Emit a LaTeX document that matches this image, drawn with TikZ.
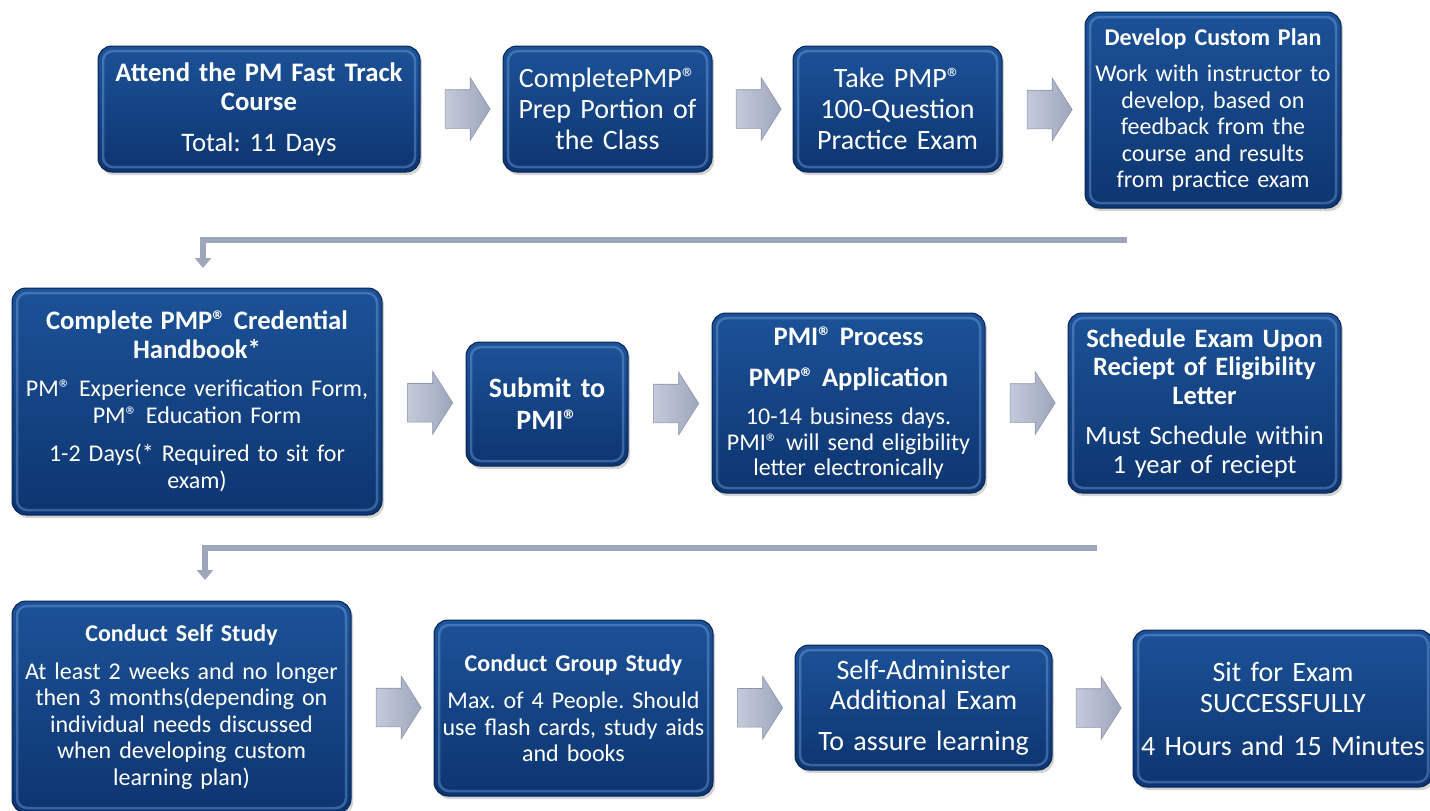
\documentclass[tikz,border=0pt]{standalone}
\usepackage{fontspec}
\setmainfont{Carlito}
\usetikzlibrary{positioning,calc,shapes.arrows,shadows,arrows.meta}

\definecolor{boxtop}{RGB}{28,82,152}
\definecolor{boxbot}{RGB}{13,53,112}
\definecolor{boxrim}{RGB}{9,37,84}
\definecolor{boxlight}{RGB}{125,170,228}
\definecolor{flowgray}{RGB}{158,166,188}
\definecolor{flowlight}{RGB}{196,202,218}
\definecolor{flowedge}{RGB}{140,148,172}

\newcommand{\rg}{®}

\begin{document}
\frenchspacing
\begin{tikzpicture}[x=1pt, y=-1pt,
    box/.style 2 args={rectangle, rounded corners=14pt, text width=#1, minimum height=#2,
        inner xsep=0pt, inner ysep=2pt, align=center, text=white,
        top color=boxtop, bottom color=boxbot, draw=boxrim, line width=1pt,
        drop shadow={shadow xshift=2pt, shadow yshift=-3pt, opacity=.35},
        path picture={\draw[boxlight, opacity=.4, line width=2.5pt, rounded corners=10pt]
            ([shift={(5pt,-5pt)}]path picture bounding box.north west) rectangle
            ([shift={(-5pt,5pt)}]path picture bounding box.south east);}},
    fbig/.style={font=\fontsize{28}{31}\selectfont},
    fmid/.style={font=\fontsize{26.7}{29}\selectfont},
    fsmall/.style={font=\fontsize{24}{26.5}\selectfont},
    flow/.style={single arrow, minimum height=45pt, inner xsep=0pt, inner ysep=19pt,
        single arrow head extend=12pt, single arrow tip angle=115,
        left color=flowlight, right color=flowgray, draw=flowedge, line width=.6pt},
    elbow/.style={draw=flowgray, line width=6pt, -{Triangle[width=16pt,length=10pt]}}]

    \useasboundingbox (0,0) rectangle (1430,811);

    % Row 1
    \node[box={322pt}{126pt}, fmid] (attend) at (259,109)
        {\textbf{Attend the PM Fast Track\\Course}\par\vspace{12pt}Total: 11 Days};
    \node[box={209pt}{126pt}, fbig] (prep) at (607.5,109)
        {CompletePMP\rg\\Prep Portion of\\the Class};
    \node[box={209pt}{126pt}, fbig] (practice) at (897.5,109)
        {Take PMP\rg\\100-Question\\Practice Exam};
    \node[box={256pt}{196pt}, fsmall] (plan) at (1213,110)
        {\textbf{Develop Custom Plan}\par\vspace{10pt}Work with instructor to\\develop, based on\\feedback from the\\course and results\\from practice exam};

    % Row 2
    \node[box={370pt}{227pt}, font=\fontsize{24}{27}\selectfont] (handbook) at (197,401.5)
        {{\fontsize{26.7}{29}\selectfont\bfseries Complete PMP\rg{} Credential\\Handbook*\par}\vspace{11pt}PM\rg{} Experience verification Form,\\PM\rg{} Education Form\par\vspace{11pt}1-2 Days(* Required to sit for\\exam)};
    \node[box={162pt}{124pt}, font=\fontsize{28}{32}\selectfont] (submit) at (547,404)
        {\textbf{Submit to\\PMI\rg}};
    \node[box={273pt}{180pt}, font=\fontsize{24}{25.5}\selectfont] (process) at (848.5,403)
        {{\fontsize{26.7}{29}\selectfont\bfseries PMI\rg{} Process\par\vspace{12pt}PMP\rg{} Application\par}\vspace{13pt}10-14 business days.\\PMI\rg{} will send eligibility\\letter electronically};
    \node[box={273pt}{180pt}, font=\fontsize{26.5}{28.5}\selectfont] (schedule) at (1204.5,403)
        {\textbf{Schedule Exam Upon\\Reciept of Eligibility\\Letter}\par\vspace{12pt}Must Schedule within\\1 year of reciept};

    % Row 3
    \node[box={339pt}{212pt}, fsmall] (selfstudy) at (181.5,707)
        {\textbf{Conduct Self Study}\par\vspace{11pt}At least 2 weeks and no longer\\then 3 months(depending on\\individual needs discussed\\when developing custom\\learning plan)};
    \node[box={279pt}{176pt}, fsmall] (groupstudy) at (573.5,708)
        {\textbf{Conduct Group Study}\par\vspace{11pt}Max. of 4 People. Should\\use flash cards, study aids\\and books};
    \node[box={257pt}{125pt}, font=\fontsize{28}{30}\selectfont] (selfexam) at (923.5,707.5)
        {Self-Administer\\Additional Exam\par\vspace{11pt}To assure learning};
    \node[box={300pt}{157pt}, fbig] (sitexam) at (1283,708.5)
        {Sit for Exam\\SUCCESSFULLY\par\vspace{12pt}4 Hours and 15 Minutes};

    % Block arrows
    \node[flow] (f1) at ($(attend.east)!.5!(prep.west)$) {};
    \node[flow] (f2) at ($(prep.east)!.5!(practice.west)$) {};
    \node[flow] (f3) at ($(practice.east)!.5!(plan.west)$) {};
    \node[flow] (f4) at ($(handbook.east)!.5!(submit.west)$) {};
    \node[flow] (f5) at ($(submit.east)!.5!(process.west)$) {};
    \node[flow] (f6) at ($(process.east)!.5!(schedule.west)$) {};
    \node[flow] (f7) at ($(selfstudy.east)!.5!(groupstudy.west)$) {};
    \node[flow] (f8) at ($(groupstudy.east)!.5!(selfexam.west)$) {};
    \node[flow] (f9) at ($(selfexam.east)!.5!(sitexam.west)$) {};

    % Row returns
    \coordinate (r1) at (1127,240);
    \coordinate (t1) at (203,268);
    \coordinate (r2) at (1097,548);
    \coordinate (t2) at (205,580);
    \draw[elbow] (r1) -| (t1);
    \draw[elbow] (r2) -| (t2);
\end{tikzpicture}
\end{document}
